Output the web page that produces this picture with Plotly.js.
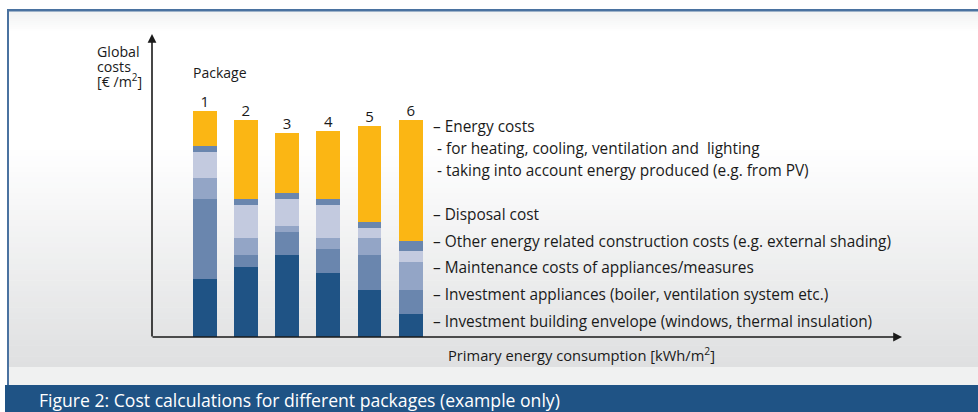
<!DOCTYPE html>
<html>
<head>
<meta charset="utf-8">
<script src="https://cdn.plot.ly/plotly-3.0.1.min.js"></script>
<style>html,body{margin:0;padding:0;background:#fff;}#chart{width:978px;height:412px;}</style>
</head>
<body>
<div id="chart"></div>
<script>
// ---- data ----
const packages = [1, 2, 3, 4, 5, 6];
const packageLabels = ["1", "2", "3", "4", "5", "6"];
const investmentEnvelope = [58, 70, 82, 64, 47, 23];
const investmentAppliances = [80, 12, 23, 24, 35, 24];
const maintenanceCosts = [21, 17, 6, 11, 17, 28];
const otherConstruction = [26, 33, 27, 33, 10, 11];
const disposalCost = [6, 6, 6, 6, 6, 10];
const energyCosts = [35, 79, 60, 68, 96, 121];
const legendLines = [
  "– Energy costs",
  " - for heating, cooling, ventilation and  lighting",
  " - taking into account energy produced (e.g. from PV)",
  "– Disposal cost",
  "– Other energy related construction costs (e.g. external shading)",
  "– Maintenance costs of appliances/measures",
  "– Investment appliances (boiler, ventilation system etc.)",
  "– Investment building envelope (windows, thermal insulation)"
];
const yTitleLines = ["Global", "costs", "[€ /m<sup>2</sup>]"];
const packageTitle = "Package";
const xTitle = "Primary energy consumption [kWh/m<sup>2</sup>]";
const caption = "Figure 2: Cost calculations for different packages (example only)";

// ---- geometry helpers ----
const W = 978, H = 412;
const px = x => x / W;
const py = y => 1 - y / H;
const FONT = "Open Sans, sans-serif";

const x0 = 152, x1 = 902, yBase = 337, yTop = 34;
const unit = 41.2, firstCenter = 204.7;
const xr0 = 1 - (firstCenter - x0) / unit;
const xr1 = xr0 + (x1 - x0) / unit;

const series = [
  {name: "Investment building envelope", y: investmentEnvelope, color: "#1f5385"},
  {name: "Investment appliances", y: investmentAppliances, color: "#6a86ae"},
  {name: "Maintenance costs", y: maintenanceCosts, color: "#93a5c6"},
  {name: "Other energy related construction costs", y: otherConstruction, color: "#c3cadf"},
  {name: "Disposal cost", y: disposalCost, color: "#6a86ae"},
  {name: "Energy costs", y: energyCosts, color: "#fbb614"}
];

const traces = series.map(s => ({
  type: "bar", x: packages, y: s.y, name: s.name, width: 0.58,
  marker: {color: s.color, line: {width: 0}}, hoverinfo: "y+name"
}));
const totals = packages.map((p, i) => series.reduce((a, s) => a + s.y[i], 0));
traces.push({
  type: "scatter", mode: "text", x: packages, y: totals, text: packageLabels,
  textposition: "top center", textfont: {family: FONT, size: 15, color: "#1a1a1a"},
  hoverinfo: "skip", cliponaxis: false
});

// ---- background shapes ----
const shapes = [];
function rect(xa, ya, xb, yb, color) {
  shapes.push({type: "rect", xref: "paper", yref: "paper", x0: px(xa), x1: px(xb), y0: py(yb), y1: py(ya),
    fillcolor: color, line: {width: 0}, layer: "below"});
}
function mix(c1, c2, t) {
  const h = c => [1, 3, 5].map(i => parseInt(c.substr(i, 2), 16));
  const a = h(c1), b = h(c2);
  return "rgb(" + a.map((v, i) => Math.round(v + (b[i] - v) * t)).join(",") + ")";
}
rect(9, 11, W, 385, "#ffffff");
// top faint band
for (let i = 0; i < 10; i++) {
  rect(9, 11 + i * 2, W, 13 + i * 2, mix("#f1f2f2", "#ffffff", i / 10));
}
// lower gradient
const gStart = 150, gEnd = 367, steps = 40;
for (let i = 0; i < steps; i++) {
  const ya = gStart + (gEnd - gStart) * i / steps;
  const yb = gStart + (gEnd - gStart) * (i + 1) / steps;
  rect(9, ya, W, yb + 0.5, mix("#ffffff", "#dfe0e1", (i + 1) / steps));
}
rect(9, 367, W, 385, "#f0f1f1");
// frame
rect(7, 9, W, 11.5, "#4a72a0");
rect(7, 9, 9, 386, "#4a72a0");
// caption band
rect(5, 385, W, H, "#1f5385");

// ---- annotations ----
const annotations = [];
function txt(text, x, y, size, opts) {
  annotations.push(Object.assign({xref: "paper", yref: "paper", x: px(x), y: py(y), text: text,
    showarrow: false, xanchor: "left", yanchor: "middle",
    font: {family: FONT, size: size, color: "#1a1a1a"}}, opts || {}));
}
const yTitleY = [52, 66, 80];
yTitleLines.forEach((t, i) => txt(t, 95, yTitleY[i], 14.2));
txt(packageTitle, 191, 72, 14);
const legendY = [127, 149, 171, 214, 242, 267, 294, 321];
legendLines.forEach((t, i) => txt(t.replace(/^ /, "&nbsp;"), 431, legendY[i], 15.4));
txt(xTitle, 581, 354, 14.7, {xanchor: "center"});
txt(caption, 37, 400, 17.6, {font: {family: FONT, size: 17.6, color: "#ffffff"}});
// axis arrows
annotations.push({xref: "paper", yref: "paper", x: px(x0), y: py(yTop), ax: 0, ay: yBase - yTop + 1,
  text: "", showarrow: true, arrowhead: 2, arrowsize: 1.1, arrowwidth: 1.6, arrowcolor: "#1a1a1a", standoff: 0});
annotations.push({xref: "paper", yref: "paper", x: px(x1), y: py(yBase), ax: -(x1 - x0 + 1), ay: 0,
  text: "", showarrow: true, arrowhead: 2, arrowsize: 1.1, arrowwidth: 1.6, arrowcolor: "#1a1a1a", standoff: 0});

const layout = {
  width: W, height: H, margin: {l: 0, r: 0, t: 0, b: 0},
  paper_bgcolor: "#ffffff", plot_bgcolor: "rgba(0,0,0,0)",
  barmode: "stack", bargap: 0, showlegend: false,
  xaxis: {domain: [px(x0), px(x1)], range: [xr0, xr1], visible: false, fixedrange: true},
  yaxis: {domain: [py(yBase), py(yTop)], range: [0, yBase - yTop], visible: false, fixedrange: true},
  shapes: shapes, annotations: annotations,
  font: {family: FONT}
};

Plotly.newPlot("chart", traces, layout, {displayModeBar: false, staticPlot: true});
</script>
</body>
</html>
